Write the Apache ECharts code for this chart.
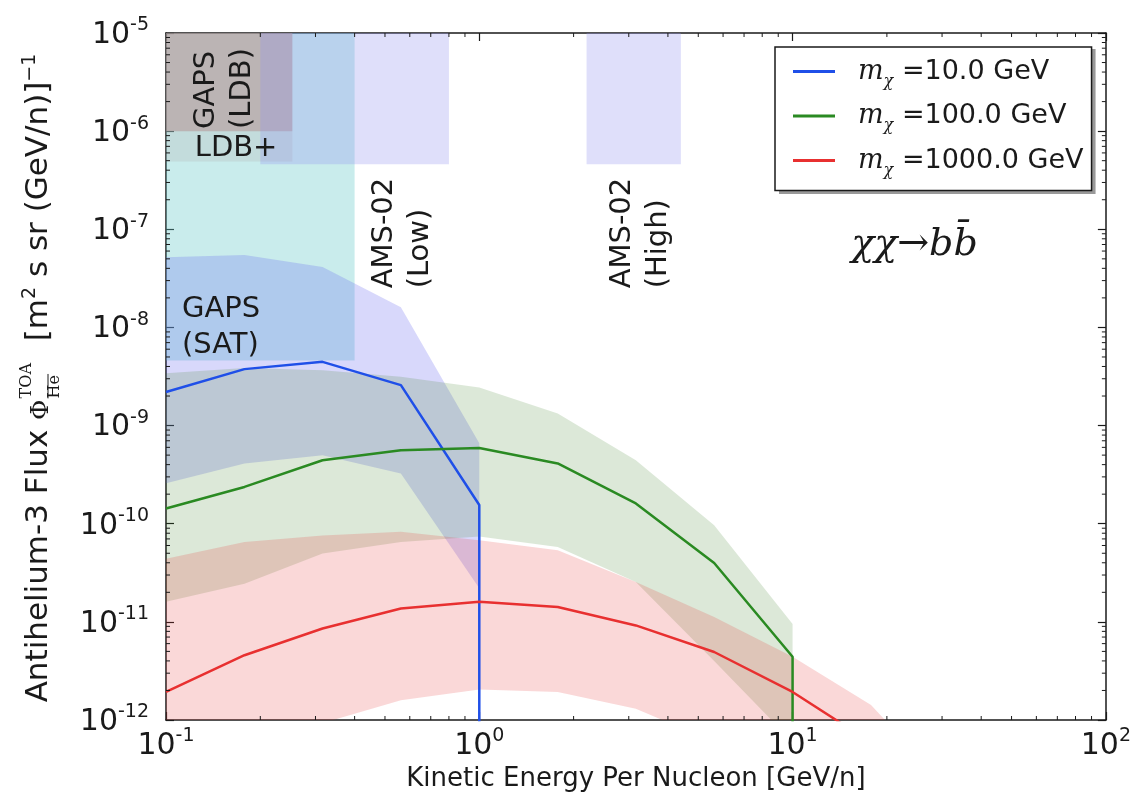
<!DOCTYPE html>
<html><head><meta charset="utf-8">
<script src="https://cdn.jsdelivr.net/npm/echarts@6/dist/echarts.min.js"></script>
<style>html,body{margin:0;padding:0;background:#fff}#chart{width:1134px;height:807px}</style>
</head><body><div id="chart"></div>
<script>
// ---------------- data ----------------
const energy = [0.1, 0.178, 0.316, 0.562, 1.0, 1.78, 3.16, 5.62, 10, 17.8, 31.6];
const belowAxis = 1e-14;

// m_chi = 10 GeV (ends at 1 GeV/n)
const flux10    = [2.2e-9, 3.76e-9, 4.46e-9, 2.58e-9, 1.55e-10];
const flux10Hi  = [5.2e-8, 5.46e-8, 4.12e-8, 1.61e-8, 6.6e-10];
const flux10Lo  = [2.59e-10, 4.1e-10, 4.99e-10, 3.25e-10, 2.2e-11];
const cutoff10  = 1.0;

// m_chi = 100 GeV (ends at 10 GeV/n)
const flux100   = [1.43e-10, 2.37e-10, 4.43e-10, 5.6e-10, 5.9e-10, 4.11e-10, 1.61e-10, 3.98e-11, 4.41e-12];
const flux100Hi = [3.42e-9, 3.85e-9, 3.67e-9, 3.14e-9, 2.44e-9, 1.33e-9, 4.43e-10, 9.66e-11, 9.5e-12];
const flux100Lo = [1.6e-11, 2.45e-11, 4.96e-11, 6.53e-11, 7.4e-11, 5.8e-11, 2.55e-11, 4.0e-12, 6e-13];
const cutoff100 = 10;

// m_chi = 1000 GeV
const flux1000   = [1.93e-12, 4.57e-12, 8.55e-12, 1.37e-11, 1.6e-11, 1.42e-11, 9.2e-12, 4.93e-12, 1.93e-12, 5.9e-13];
const flux1000Hi = [4.4e-11, 6.5e-11, 7.6e-11, 8.3e-11, 6.8e-11, 5.37e-11, 2.55e-11, 1.12e-11, 4.4e-12, 1.42e-12, 2e-13];
const flux1000Lo = [3e-13, 5e-13, 9.3e-13, 1.59e-12, 2.04e-12, 1.93e-12, 1.3e-12, 6e-13, 2e-13, 5e-14, 1e-14];

const seriesNames = ['10.0', '100.0', '1000.0'];

// experiment sensitivity boxes
const boxNames = ['GAPS (SAT)', 'LDB+', 'GAPS (LDB)', 'AMS-02 (Low)', 'AMS-02 (High)'];
const boxXMin  = [0.1, 0.1, 0.1, 0.2, 2.2];
const boxXMax  = [0.4, 0.253, 0.253, 0.8, 4.4];
const boxYMin  = [4.6e-9, 4.9e-7, 1.0e-6, 4.6e-7, 4.6e-7];
const boxYMax  = [1e-5, 1e-5, 1e-5, 1e-5, 1e-5];

// annotation texts and their anchor positions (data coords)
const annText = ['GAPS\n(LDB)', 'LDB+', 'GAPS\n(SAT)', 'AMS-02\n(Low)', 'AMS-02\n(High)', 'χχ→bb̄'];
const annX    = [0.154, 0.1235, 0.1124, 0.57, 3.27, 24.5];
const annY    = [1.05e-6, 6.7e-7, 1.0e-8, 2.5e-8, 2.5e-8, 6.9e-8];
const annRot  = [90, 0, 0, 90, 90, 0];

// axis ranges
const xRange = [0.1, 100];
const yRange = [1e-12, 1e-5];
const xMinor = [0.2,0.3,0.4,0.5,0.6,0.7,0.8,0.9, 2,3,4,5,6,7,8,9, 20,30,40,50,60,70,80,90];
const yMinorExp = [-12,-11,-10,-9,-8,-7,-6];

// ---------------- styles ----------------
const lineColors = ['#1f4fe8', '#2a8a22', '#e83030'];
const bandColors = ['rgba(100,100,240,0.25)', 'rgba(60,130,40,0.18)', 'rgba(230,60,60,0.2)'];
const boxColors  = ['rgba(100,200,200,0.35)', 'rgba(180,170,170,0.25)', 'rgba(180,140,140,0.5)',
                    'rgba(150,150,240,0.3)', 'rgba(150,150,240,0.3)'];
const TXT = '#1a1a1a';
const SANS = 'DejaVu Sans';
const SERIF = 'DejaVu Serif';

const yMinor = [];
yMinorExp.forEach(e => { for (let k = 2; k <= 9; k++) yMinor.push(k * Math.pow(10, e)); });

function bandSeries(n, lo, hi, color) {
  const xs = energy.slice(0, n);
  return {
    type: 'custom', coordinateSystem: 'cartesian2d', clip: true, silent: true, z: 3,
    data: xs.map((x, i) => [x, lo[i], hi[i]]),
    encode: { x: 0, y: [1, 2] },
    renderItem(params, api) {
      if (params.dataIndex !== 0) return null;
      const pts = [];
      for (let i = 0; i < xs.length; i++) pts.push(api.coord([xs[i], hi[i]]));
      for (let i = xs.length - 1; i >= 0; i--) pts.push(api.coord([xs[i], lo[i]]));
      return { type: 'polygon', shape: { points: pts }, style: { fill: color } };
    }
  };
}
function lineData(vals, cutoff) {
  const d = vals.map((v, i) => [energy[i], v]);
  if (cutoff !== undefined) d.push([cutoff, belowAxis]);
  return d;
}
function lineSeries(name, data, color) {
  return { name, type: 'line', data, symbol: 'none', z: 5, clip: true, silent: true,
    lineStyle: { color, width: 2.5 }, itemStyle: { color } };
}

const supRich = {
  b: { fontSize: 30, fontFamily: SANS, color: TXT, lineHeight: 34, verticalAlign: 'bottom' },
  s: { fontSize: 19, fontFamily: SANS, color: TXT, lineHeight: 17, verticalAlign: 'top' }
};
const expFmt = v => '{b|10}{s|' + Math.round(Math.log10(v)) + '}';

const axisLineStyle = { color: '#1a1a1a', width: 1.5 };
function xAx(pos, show) {
  return { type: 'log', logBase: 10, min: xRange[0], max: xRange[1], position: pos, splitNumber: 3,
    axisLine: { show: true, onZero: false, lineStyle: axisLineStyle },
    axisTick: { show: true, inside: true, length: 8, lineStyle: { color: '#1a1a1a', width: 1.2 } },
    splitLine: { show: false },
    axisLabel: { show: show, margin: 7, formatter: expFmt, rich: supRich },
    name: show ? 'Kinetic Energy Per Nucleon [GeV/n]' : '', nameLocation: 'middle', nameGap: 40,
    nameTextStyle: { fontSize: 26, fontFamily: SANS, color: TXT } };
}
function yAx(pos, show) {
  return { type: 'log', logBase: 10, min: yRange[0], max: yRange[1], position: pos, splitNumber: 7,
    axisLine: { show: true, onZero: false, lineStyle: axisLineStyle },
    axisTick: { show: true, inside: true, length: 8, lineStyle: { color: '#1a1a1a', width: 1.2 } },
    splitLine: { show: false },
    axisLabel: { show: show, margin: 17, formatter: expFmt, rich: supRich } };
}

const tickSeriesX = {
  type: 'custom', coordinateSystem: 'cartesian2d', silent: true, clip: false, z: 10,
  data: xMinor.map(v => [v, yRange[0]]), encode: { x: 0, y: 1 },
  renderItem(params, api) {
    const v = api.value(0);
    const b = api.coord([v, yRange[0]]), t = api.coord([v, yRange[1]]);
    const st = { stroke: '#1a1a1a', lineWidth: 1 };
    return { type: 'group', children: [
      { type: 'line', shape: { x1: b[0], y1: b[1], x2: b[0], y2: b[1] - 4 }, style: st },
      { type: 'line', shape: { x1: t[0], y1: t[1], x2: t[0], y2: t[1] + 4 }, style: st } ] };
  }
};
const tickSeriesY = {
  type: 'custom', coordinateSystem: 'cartesian2d', silent: true, clip: false, z: 10,
  data: yMinor.map(v => [xRange[0], v]), encode: { x: 0, y: 1 },
  renderItem(params, api) {
    const v = api.value(1);
    const l = api.coord([xRange[0], v]), r = api.coord([xRange[1], v]);
    const st = { stroke: '#1a1a1a', lineWidth: 1 };
    return { type: 'group', children: [
      { type: 'line', shape: { x1: l[0], y1: l[1], x2: l[0] + 4, y2: l[1] }, style: st },
      { type: 'line', shape: { x1: r[0], y1: r[1], x2: r[0] - 4, y2: r[1] }, style: st } ] };
  }
};

const boxSeries = {
  type: 'custom', coordinateSystem: 'cartesian2d', silent: true, clip: true, z: 2,
  data: boxNames.map((n, i) => [boxXMin[i], boxYMin[i], boxXMax[i], boxYMax[i]]),
  encode: { x: [0, 2], y: [1, 3] },
  renderItem(params, api) {
    const p0 = api.coord([api.value(0), api.value(1)]);
    const p1 = api.coord([api.value(2), api.value(3)]);
    return { type: 'rect', shape: { x: p0[0], y: p1[1], width: p1[0] - p0[0], height: p0[1] - p1[1] },
      style: { fill: boxColors[params.dataIndex] } };
  }
};

const annSeries = {
  type: 'custom', coordinateSystem: 'cartesian2d', silent: true, clip: false, z: 8,
  data: annText.map((t, i) => [annX[i], annY[i]]), encode: { x: 0, y: 1 },
  renderItem(params, api) {
    const i = params.dataIndex;
    const p = api.coord([api.value(0), api.value(1)]);
    const isMath = i === 5;
    return { type: 'text', x: p[0], y: p[1], rotation: annRot[i] * Math.PI / 180,
      style: { text: annText[i], fill: TXT,
        fontSize: isMath ? 38 : 29, fontFamily: isMath ? SERIF : SANS, fontStyle: isMath ? 'italic' : 'normal',
        lineHeight: 36, align: isMath ? 'center' : 'left', verticalAlign: 'middle' } };
  }
};

// ---- text measuring ----
const mctx = document.createElement('canvas').getContext('2d');
function tw(t, size, fam, italic) { mctx.font = (italic ? 'italic ' : '') + size + 'px "' + fam + '"'; return mctx.measureText(t).width; }

// ---- y axis title, built as rotated group ----
const titleParts = [];
let off = 0;
function addPart(t, size, fam, dy) {
  titleParts.push({ type: 'text', x: off, y: dy - 0.36 * size,
    style: { text: t, fontSize: size, fontFamily: fam, fill: TXT, align: 'left', verticalAlign: 'middle' } });
  off += tw(t, size, fam);
}
addPart('Antihelium-3 Flux ', 31, SANS, 0);
addPart('Φ', 25, SERIF, 0);
{
  const x0 = off + 1;
  const sz = 16;
  const wT = tw('TOA', sz, SERIF), wH = tw('He', sz, SERIF);
  titleParts.push({ type: 'text', x: x0, y: -17 - 0.36 * sz, style: { text: 'TOA', fontSize: sz, fontFamily: SERIF, fill: TXT, align: 'left', verticalAlign: 'middle' } });
  titleParts.push({ type: 'text', x: x0, y: 11 - 0.36 * sz, style: { text: 'He', fontSize: sz, fontFamily: SERIF, fill: TXT, align: 'left', verticalAlign: 'middle' } });
  titleParts.push({ type: 'line', shape: { x1: x0, y1: -2, x2: x0 + wH + 1, y2: -2 }, style: { stroke: TXT, lineWidth: 1 } });
  off = x0 + Math.max(wT, wH) + 2;
}
addPart('  [m', 31, SANS, 0);
addPart('2', 19, SANS, -13);
addPart(' s sr (GeV/n)]', 31, SANS, 0);
addPart('−1', 19, SANS, -13);
const titleLen = off;

// ---- legend geometry (for its drop shadow) ----
const LEG = { left: 775, top: 47, pad: [11, 8, 12, 18], iconW: 42, gap: 13, rowH: 32 };
const legTextW = Math.max(...seriesNames.map(n =>
  18 + tw('m', 27, SERIF, true) + tw('χ', 16, SERIF, true) + tw(' =' + n + ' GeV', 27, SANS)));
const legW = LEG.pad[3] + LEG.iconW + 5 + legTextW + LEG.pad[1];
const legH = LEG.pad[0] + LEG.pad[2] + seriesNames.length * LEG.rowH + (seriesNames.length - 1) * LEG.gap;

const option = {
  animation: false,
  backgroundColor: '#fff',
  grid: { left: 166, right: 24, top: 33, bottom: 87, containLabel: false },
  xAxis: [xAx('bottom', true), xAx('top', false)],
  yAxis: [yAx('left', true), yAx('right', false)],
  legend: {
    show: true, orient: 'vertical', left: LEG.left, top: LEG.top, z: 20,
    data: seriesNames.map(n => 'm' + n),
    icon: 'rect', itemWidth: LEG.iconW, itemHeight: 3, itemGap: LEG.gap,
    padding: LEG.pad,
    backgroundColor: '#fff', borderColor: '#1a1a1a', borderWidth: 1.5, borderRadius: 0,
    itemStyle: { borderWidth: 0 },
    formatter: name => '{m|m}{c|χ}{t| =' + name.slice(1) + ' GeV}',
    textStyle: { rich: {
      m: { fontFamily: SERIF, fontStyle: 'italic', fontSize: 27, color: TXT, lineHeight: 36, verticalAlign: 'middle', padding: [0, 0, 0, 18] },
      c: { fontFamily: SERIF, fontStyle: 'italic', fontSize: 16, color: TXT, lineHeight: 20, verticalAlign: 'bottom' },
      t: { fontFamily: SANS, fontSize: 27, color: TXT, lineHeight: 36, verticalAlign: 'middle' }
    } }
  },
  graphic: [
    { type: 'group', x: 50, y: 378 + titleLen / 2, rotation: Math.PI / 2, children: titleParts },
    { type: 'rect', z: 19, silent: true, shape: { x: LEG.left + 4, y: LEG.top + 2, width: legW, height: legH },
      style: { fill: 'rgba(0,0,0,0.4)' } }
  ],
  series: [
    boxSeries,
    bandSeries(5, flux10Lo, flux10Hi, bandColors[0]),
    bandSeries(9, flux100Lo, flux100Hi, bandColors[1]),
    bandSeries(11, flux1000Lo, flux1000Hi, bandColors[2]),
    lineSeries('m' + seriesNames[0], lineData(flux10, cutoff10), lineColors[0]),
    lineSeries('m' + seriesNames[1], lineData(flux100, cutoff100), lineColors[1]),
    lineSeries('m' + seriesNames[2], lineData(flux1000), lineColors[2]),
    annSeries, tickSeriesX, tickSeriesY
  ]
};
const chart = echarts.init(document.getElementById('chart'), null, { renderer: 'canvas' });
chart.setOption(option);
</script></body></html>
